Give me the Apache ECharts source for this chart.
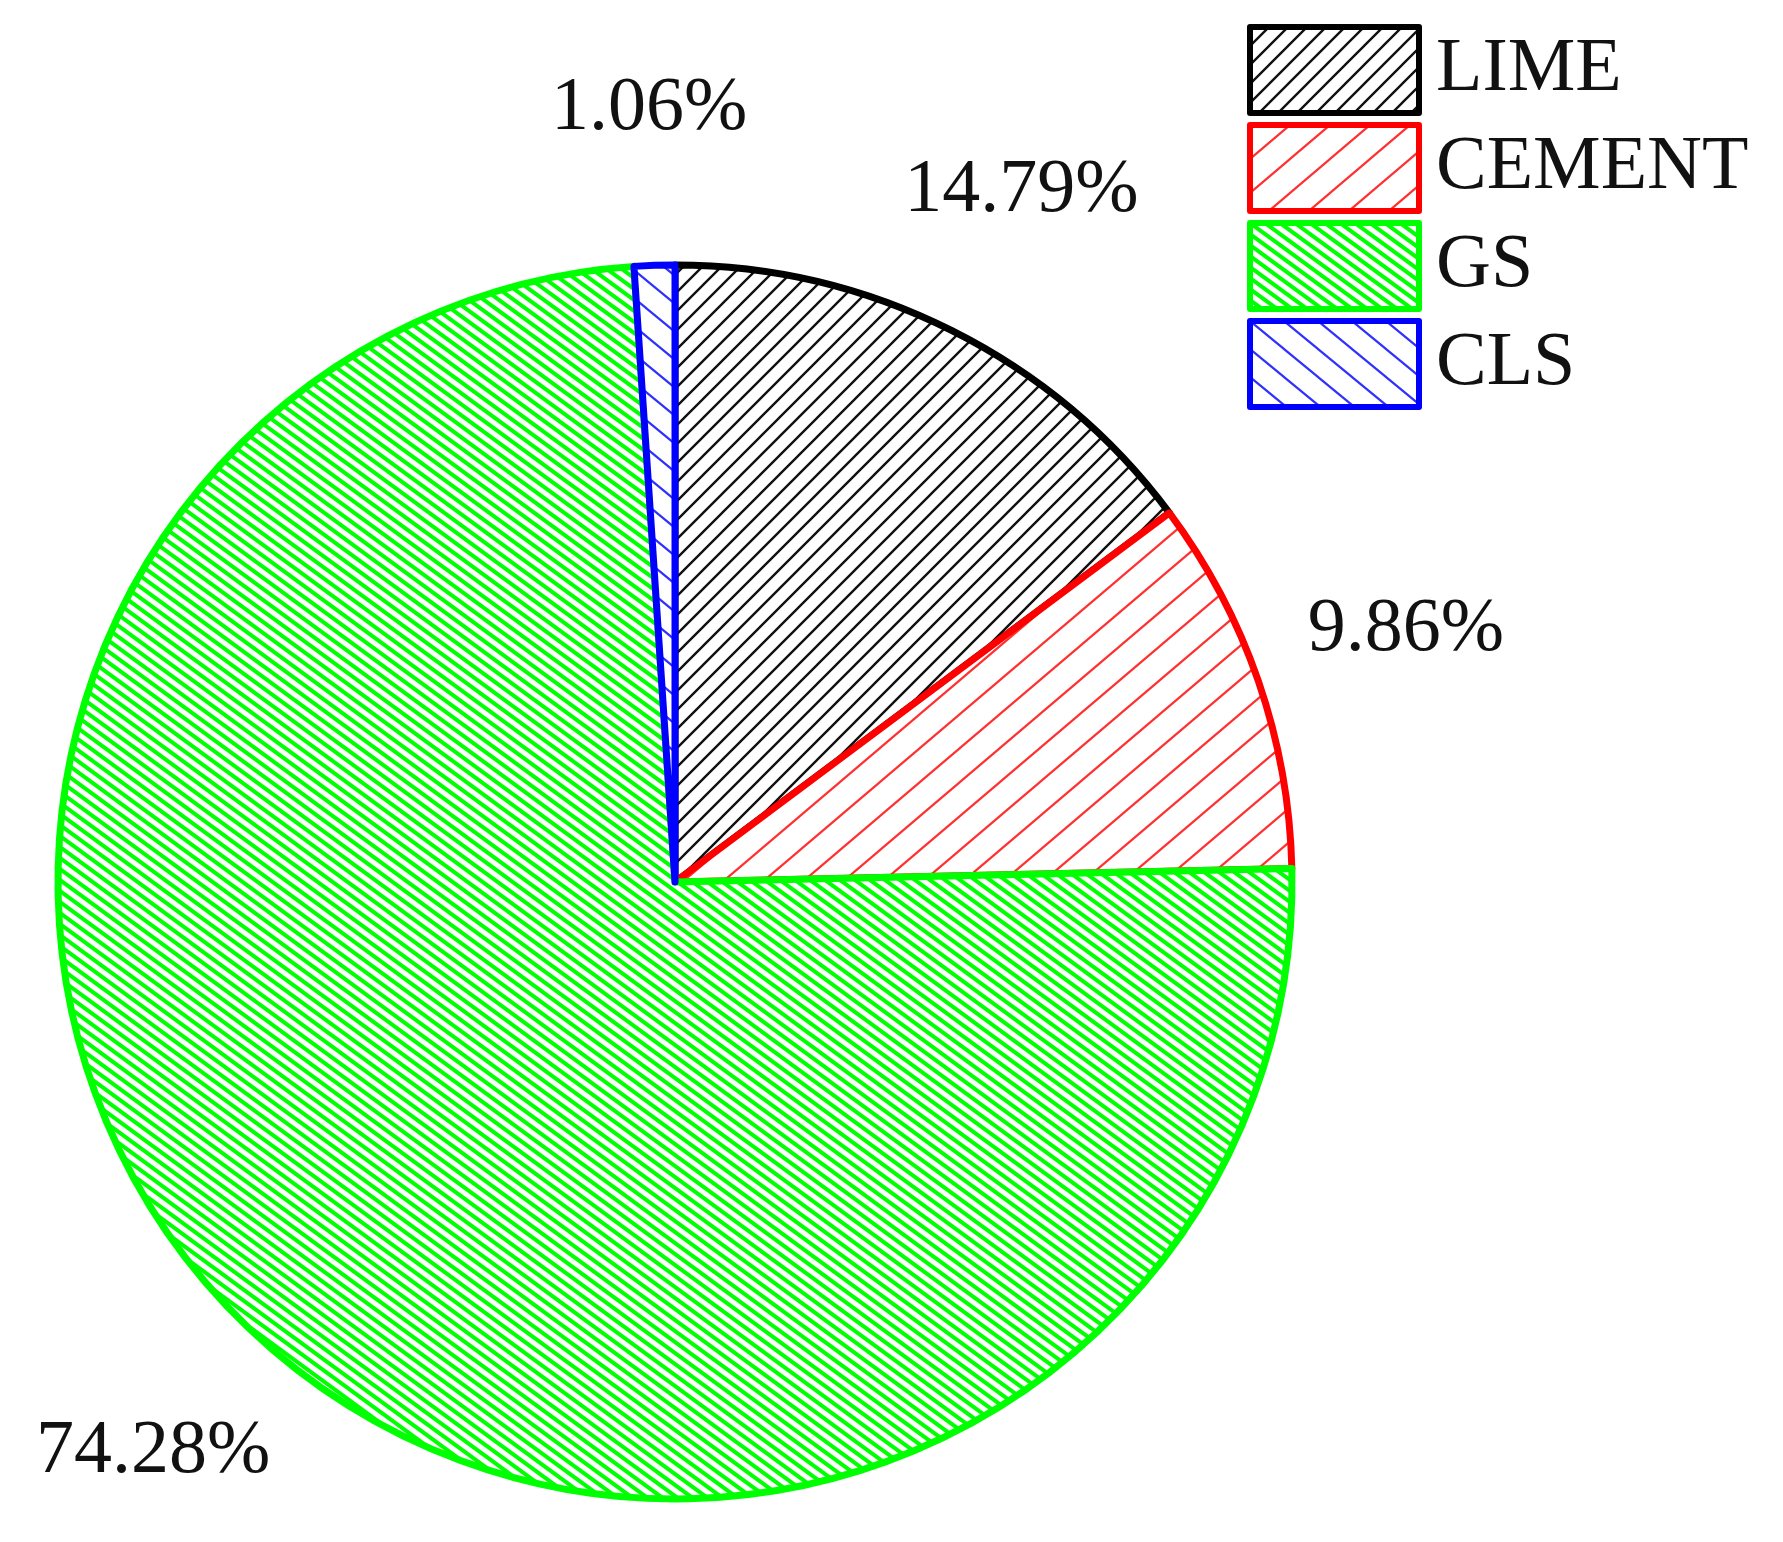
<!DOCTYPE html>
<html>
<head>
<meta charset="utf-8">
<title>Pie</title>
<script src="https://cdn.jsdelivr.net/npm/echarts@6/dist/echarts.min.js"></script>
<style>
  html, body { margin: 0; padding: 0; background: #fff; }
  #chart { width: 1783px; height: 1542px; }
</style>
</head>
<body>
<div id="chart"></div>
<script>
var names = ['LIME', 'CEMENT', 'GS', 'CLS'];
var shares = [14.79, 9.86, 74.28, 1.06];

var borderColors = ['#000000', '#ff0000', '#00ff00', '#0000ff'];
// hatch: colour, line width, tile w, tile h, direction ('/' or '\')
var hatchColors = ['#111111', '#ff3030', '#00ff00', '#3030ff'];
var hatchWidths = [2.4, 2.2, 4, 2.2];
var hatchW = [19, 40, 15, 34];
var hatchH = [19, 34, 11, 28];
var hatchDir = ['/', '/', '\\', '\\'];

function makeHatch(i) {
  var w = hatchW[i], h = hatchH[i];
  var c = document.createElement('canvas');
  c.width = w; c.height = h;
  var ctx = c.getContext('2d');
  ctx.fillStyle = '#fff';
  ctx.fillRect(0, 0, w, h);
  ctx.strokeStyle = hatchColors[i];
  ctx.lineWidth = hatchWidths[i];
  ctx.beginPath();
  for (var k = -2; k <= 2; k++) {
    if (hatchDir[i] === '/') {
      ctx.moveTo(k * w - w, 2 * h);
      ctx.lineTo(k * w + 2 * w, -h);
    } else {
      ctx.moveTo(k * w - w, -h);
      ctx.lineTo(k * w + 2 * w, 2 * h);
    }
  }
  ctx.stroke();
  return { image: c, repeat: 'repeat' };
}

var pieData = names.map(function (n, i) {
  return {
    name: n,
    value: shares[i],
    itemStyle: {
      color: makeHatch(i),
      borderColor: borderColors[i],
      borderWidth: 7
    }
  };
});

var labelData = names.map(function (n, i) {
  return { name: n, value: shares[i] };
});

var chart = echarts.init(document.getElementById('chart'));
chart.setOption({
  backgroundColor: '#ffffff',
  animation: false,
  legend: {
    orient: 'vertical',
    left: 1242,
    top: 19,
    icon: 'rect',
    itemWidth: 169,
    itemHeight: 86,
    itemGap: 6,
    data: names,
    selectedMode: false,
    itemStyle: {
      borderWidth: 6
    },
    textStyle: {
      fontFamily: 'Liberation Serif',
      fontSize: 76,
      color: '#111',
      padding: [0, 0, 0, 12]
    }
  },
  series: [
    {
      name: 'share',
      type: 'pie',
      center: [675, 882],
      radius: 617,
      startAngle: 90,
      clockwise: true,
      silent: true,
      label: { show: false },
      labelLine: { show: false },
      data: pieData
    },
    {
      // transparent ring, only carries the percentage labels
      name: 'labels',
      type: 'pie',
      center: [675, 882],
      radius: [740, 800],
      startAngle: 90,
      clockwise: true,
      silent: true,
      itemStyle: { color: 'rgba(0,0,0,0)', borderWidth: 0 },
      label: {
        show: true,
        position: 'inside',
        formatter: '{c}%',
        fontFamily: 'Liberation Serif',
        fontSize: 76,
        color: '#111'
      },
      labelLine: { show: false },
      data: labelData
    }
  ]
});
</script>
</body>
</html>
